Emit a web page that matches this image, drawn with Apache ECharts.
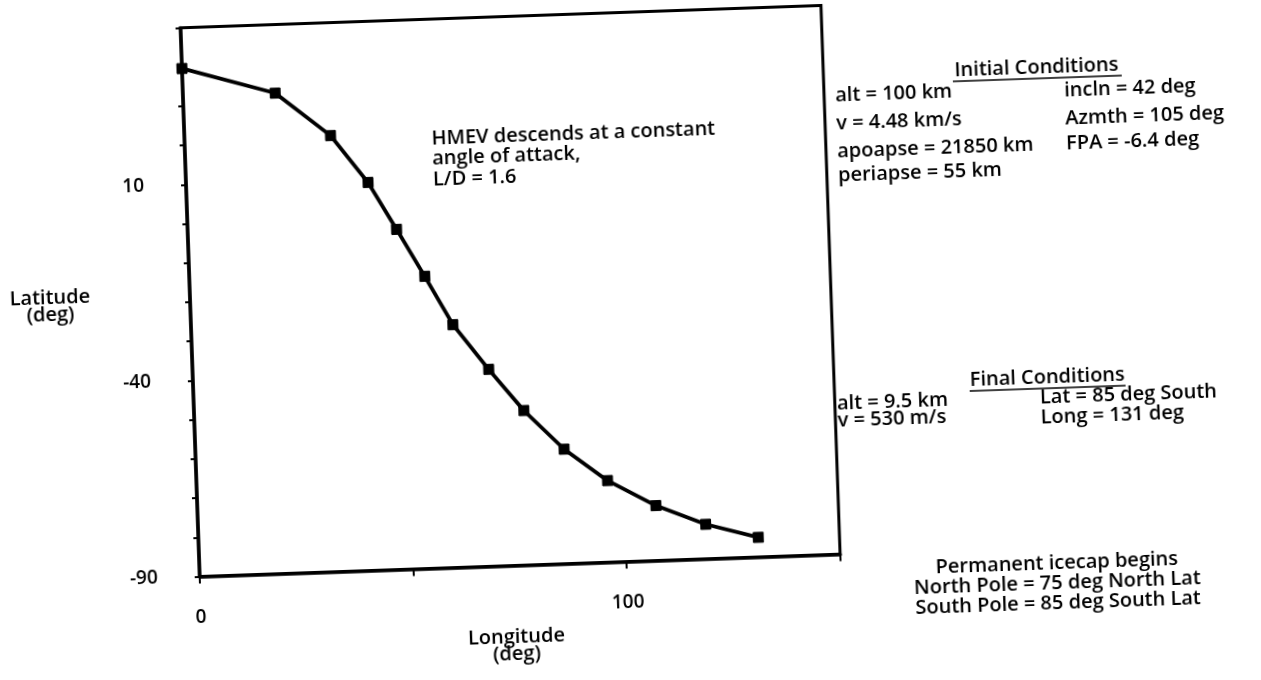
<!DOCTYPE html>
<html>
<head>
<meta charset="utf-8">
<script src="https://cdn.jsdelivr.net/npm/echarts@6/dist/echarts.min.js"></script>
<style>
  html, body { margin: 0; padding: 0; background: #fff; width: 1261px; height: 680px; overflow: hidden; }
  #chart { position: absolute; left: 0; top: 0; width: 1261px; height: 680px;
           transform: rotate(-2deg); transform-origin: 200px 585px; }
</style>
</head>
<body>
<div id="chart"></div>
<script>
// Longitude (deg) of each trajectory point
const longitude = [0, 21.6, 34.2, 42.6, 48.9, 55.1, 61.3, 69.3, 77.2, 86.3, 96.2, 107.3, 118.8, 131];
// Latitude (deg) of each trajectory point
const latitude = [39.6, 32.5, 21.2, 8.9, -3.3, -15.5, -28.1, -39.8, -50.6, -60.8, -69.2, -76.0, -81.2, -85];
// labelled ticks
const xTickLabels = [0, 100];
const yTickLabels = [-90, -40, 10];

const noteText = ['HMEV descends at a constant', 'angle of attack,', 'L/D = 1.6'];
const initialTitle = 'Initial Conditions';
const initialLeft = ['alt = 100 km', 'v = 4.48 km/s', 'apoapse = 21850 km', 'periapse = 55 km'];
const initialRight = ['incln = 42 deg', 'Azmth = 105 deg', 'FPA = -6.4 deg'];
const finalTitle = 'Final Conditions';
const finalLeft = ['alt = 9.5 km', 'v = 530 m/s'];
const finalRight = ['Lat = 85 deg South', 'Long = 131 deg'];
const icecapText = ['Permanent icecap begins', 'North Pole = 75 deg North Lat', 'South Pole = 85 deg South Lat'];

const FONT = '"Open Sans", "DejaVu Sans", sans-serif';
const FS = 20;
const chart = echarts.init(document.getElementById('chart'), null, { renderer: 'canvas' });

function txt(x, y, text, opts) {
  return {
    type: 'text', x: x, y: y,
    style: Object.assign({ text: text, fill: '#000', font: '600 ' + FS + 'px ' + FONT,
      textAlign: 'left', textVerticalAlign: 'middle' }, (opts || {}))
  };
}
function uline(x1, x2, y) {
  return { type: 'line', shape: { x1: x1, y1: y, x2: x2, y2: y }, style: { stroke: '#000', lineWidth: 1.6 } };
}

const graphics = [];
const noteY = [147, 167, 188];
noteText.forEach((t, i) => graphics.push(txt(447, noteY[i], t)));

graphics.push(txt(1054, 97, initialTitle, { textAlign: 'center' }));
graphics.push(uline(970, 1139, 108));
const initLeftY = [118.5, 146.5, 174, 198];
initialLeft.forEach((t, i) => graphics.push(txt(852, initLeftY[i], t)));
const initRightY = [121, 149, 174];
initialRight.forEach((t, i) => graphics.push(txt(1081, initRightY[i], t)));

graphics.push(txt(1054, 407, finalTitle, { textAlign: 'center' }));
graphics.push(uline(976, 1132, 418));
const finLeftY = [426, 443];
finalLeft.forEach((t, i) => graphics.push(txt(843, finLeftY[i], t)));
const finRightY = [427, 447];
finalRight.forEach((t, i) => graphics.push(txt(1046, finRightY[i], t)));

const iceY = [593, 613, 633];
icecapText.forEach((t, i) => graphics.push(txt(1057, iceY[i], t, { textAlign: 'center' })));

chart.setOption({
  animation: false,
  backgroundColor: '#fff',
  grid: { left: 200, top: 27.4, width: 640.8, height: 557.6, show: true, borderColor: '#000', borderWidth: 3 },
  xAxis: {
    type: 'value', min: 0, max: 150, interval: 50,
    name: 'Longitude\n(deg)', nameLocation: 'middle', nameGap: 80,
    nameTextStyle: { fontFamily: FONT, fontWeight: 600, fontSize: FS, color: '#000', lineHeight: 17,
      align: 'center', verticalAlign: 'middle', padding: [0, 12, 0, 0] },
    axisLine: { show: true, onZero: false, lineStyle: { color: '#000', width: 3.5 } },
    axisTick: { show: true, length: 7, lineStyle: { color: '#000', width: 2 } },
    axisLabel: { margin: 32, fontFamily: FONT, fontWeight: 600, fontSize: 19, color: '#000',
      formatter: v => xTickLabels.includes(v) ? String(v) : '' },
    splitLine: { show: false }
  },
  yAxis: {
    type: 'value', min: -90, max: 50, interval: 10,
    name: 'Latitude\n(deg)', nameLocation: 'middle', nameRotate: 0, nameGap: 140,
    nameTextStyle: { fontFamily: FONT, fontWeight: 600, fontSize: FS, color: '#000', lineHeight: 17,
      align: 'center', verticalAlign: 'middle' },
    axisLine: { show: true, onZero: false, lineStyle: { color: '#000', width: 3.5 } },
    axisTick: { show: true, length: 5, lineStyle: { color: '#000', width: 2 } },
    axisLabel: { margin: 42, fontFamily: FONT, fontWeight: 600, fontSize: 19, color: '#000',
      formatter: v => yTickLabels.includes(v) ? String(v) : '' },
    splitLine: { show: false }
  },
  graphic: graphics,
  series: [{
    type: 'line',
    data: longitude.map((x, i) => [x, latitude[i]]),
    symbol: 'rect', symbolSize: 10,
    lineStyle: { color: '#000', width: 3.8 },
    itemStyle: { color: '#000', borderColor: '#000' },
    clip: false
  }]
});
</script>
</body>
</html>
